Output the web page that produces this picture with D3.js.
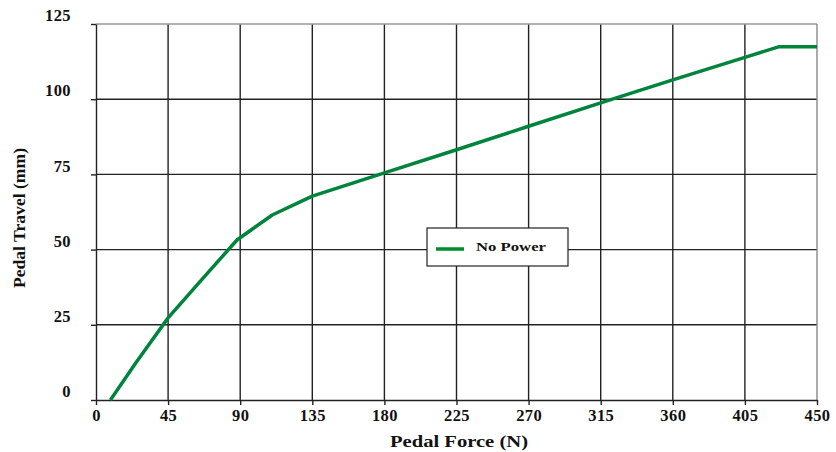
<!DOCTYPE html>
<html>
<head>
<meta charset="utf-8">
<title>Pedal Travel vs Pedal Force</title>
<style>
  body { margin: 0; background: #fff; }
  .tick text { font-family: "Liberation Serif", "Times New Roman", serif; font-weight: bold; font-size: 16.5px; letter-spacing: 0.4px; fill: #111; }
  .title { font-family: "Liberation Serif", "Times New Roman", serif; font-weight: bold; font-size: 17px; fill: #111; }
</style>
<script src="https://d3js.org/d3.v7.min.js"></script>
</head>
<body>
<svg id="chart" width="836" height="452"></svg>
<script>
// pedal force (N) and pedal travel (mm)
var force  = [9, 25, 45, 66, 88, 110, 135, 180, 225, 270, 315, 360, 405, 426, 450];
var travel = [0, 12.5, 27.3, 40, 53.2, 61.5, 67.8, 75.5, 83.2, 91, 98.8, 106.4, 113.9, 117.4, 117.4];
var xTicks = [0, 45, 90, 135, 180, 225, 270, 315, 360, 405, 450];
var yTicks = [0, 25, 50, 75, 100, 125];
var seriesName = "No Power";

var svg = d3.select("#chart");
var plotL = 96, plotR = 817, plotT = 24, plotB = 400;

var x = d3.scaleLinear().domain([0, 450]).range([plotL, plotR]);
var y = d3.scaleLinear().domain([0, 125]).range([plotB, plotT]);

// grid
svg.append("g").selectAll("line").data(xTicks.slice(1, -1)).join("line")
    .attr("x1", d => x(d)).attr("x2", d => x(d))
    .attr("y1", plotT).attr("y2", plotB)
    .attr("stroke", "#222").attr("stroke-width", 1.4);
svg.append("g").selectAll("line").data(yTicks.slice(1, -1)).join("line")
    .attr("x1", plotL).attr("x2", plotR)
    .attr("y1", d => y(d)).attr("y2", d => y(d))
    .attr("stroke", "#222").attr("stroke-width", 1.4);
// top / right frame (lighter)
svg.append("line").attr("x1", plotL).attr("x2", plotR).attr("y1", plotT).attr("y2", plotT)
    .attr("stroke", "#999").attr("stroke-width", 1.4);
svg.append("line").attr("x1", plotR).attr("x2", plotR).attr("y1", plotT).attr("y2", plotB)
    .attr("stroke", "#888").attr("stroke-width", 1.4);

// axes
var xAxis = svg.append("g").attr("transform", "translate(0," + plotB + ")")
    .call(d3.axisBottom(x).tickValues(xTicks).tickSize(5).tickSizeOuter(0).tickPadding(2));
var yAxis = svg.append("g").attr("transform", "translate(" + plotL + ",0)")
    .call(d3.axisLeft(y).tickValues(yTicks).tickSize(5).tickSizeOuter(0).tickPadding(20));
[xAxis, yAxis].forEach(function (g) {
  g.attr("font-family", null).attr("font-size", null);
  g.select(".domain").attr("stroke", "#222").attr("stroke-width", 1.4);
  g.selectAll(".tick line").attr("stroke", "#222").attr("stroke-width", 1.4);
});
yAxis.selectAll(".tick text").attr("dy", "-0.2em");
xAxis.selectAll(".tick text").attr("dy", "0.85em");

// line
var line = d3.line().x((d, i) => x(force[i])).y((d, i) => y(travel[i]));
svg.append("path").datum(force)
    .attr("d", line)
    .attr("fill", "none")
    .attr("stroke", "#00843d")
    .attr("stroke-width", 3.5)
    .attr("stroke-linejoin", "round");

// legend
var lg = svg.append("g").attr("transform", "translate(427,228)");
lg.append("rect").attr("width", 141).attr("height", 38)
    .attr("fill", "#fff").attr("stroke", "#222").attr("stroke-width", 1.2);
lg.append("line").attr("x1", 9).attr("x2", 37).attr("y1", 21).attr("y2", 21)
    .attr("stroke", "#008c2a").attr("stroke-width", 3.5);
lg.append("text").attr("class", "title").attr("x", 49).attr("y", 23)
    .attr("textLength", 70).attr("lengthAdjust", "spacingAndGlyphs")
    .style("font-size", "13.5px").text(seriesName);

// axis titles
svg.append("text").attr("class", "title").attr("x", 459).attr("y", 447)
    .attr("text-anchor", "middle")
    .attr("textLength", 138).attr("lengthAdjust", "spacingAndGlyphs")
    .text("Pedal Force (N)");
svg.append("text").attr("class", "title")
    .attr("transform", "translate(25,218) rotate(-90)")
    .attr("text-anchor", "middle")
    .attr("textLength", 140).attr("lengthAdjust", "spacingAndGlyphs")
    .text("Pedal Travel (mm)");
</script>
</body>
</html>
